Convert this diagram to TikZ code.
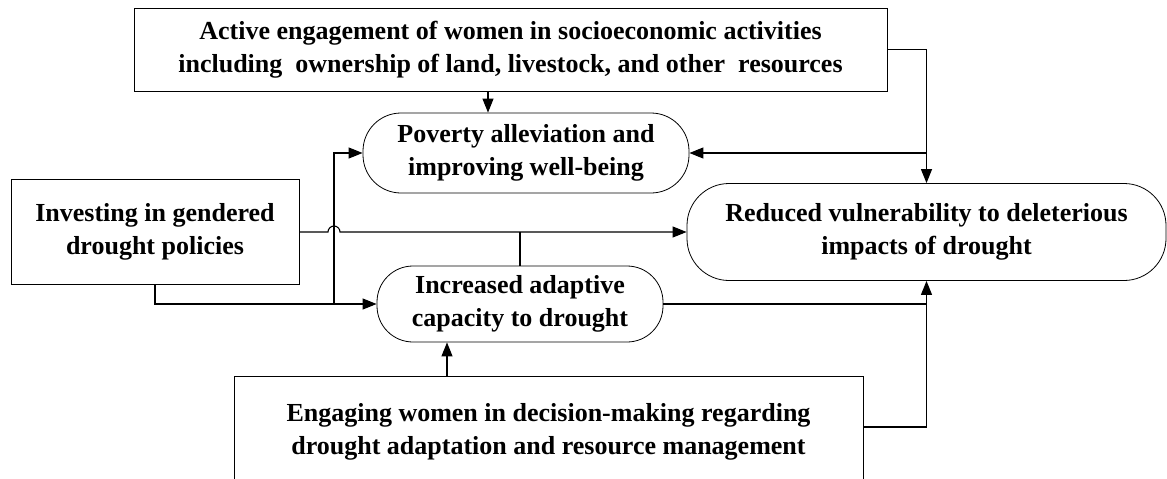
\documentclass[tikz,border=0pt]{standalone}
\usepackage{fontspec}
\setmainfont{Liberation Serif}
\usetikzlibrary{arrows.meta}
\begin{document}
\begin{tikzpicture}[x=1pt,y=-1pt,
  lbl/.style={font=\bfseries\fontsize{26}{33}\selectfont, align=center, inner sep=0pt},
  sqbox/.style={lbl, draw, line width=0.9pt},
  rbox/.style={lbl, draw, line width=0.8pt, rounded corners=#1},
  link/.style={line width=1.1pt},
  arr/.style={link, -{Triangle[length=14pt,width=11pt]}}]
\useasboundingbox (0,0) rectangle (1167,479);
\clip (0,0) rectangle (1167,479);

% boxes
\node[sqbox, minimum width=753pt, minimum height=83pt] (act) at (510.5,49.5)
  {Active engagement of women in socioeconomic activities\\including\ \ ownership of land, livestock, and other\ \ resources};
\node[sqbox, minimum width=288pt, minimum height=105pt] (inv) at (155,232)
  {Investing in gendered\\drought policies};
\node[sqbox, minimum width=629pt, minimum height=112pt] (eng) at (548.5,432)
  {Engaging women in decision-making regarding\\drought adaptation and resource management};

% outcomes
\node[rbox=38pt, minimum width=326pt, minimum height=80pt] (pov) at (526,153)
  {Poverty alleviation and\\improving well-being};
\node[rbox=42pt, minimum width=479pt, minimum height=97pt] (red) at (926.5,232)
  {Reduced vulnerability to deleterious\\impacts of drought};
\node[rbox=36pt, minimum width=286pt, minimum height=76pt] (inc) at (520,304)
  {Increased adaptive\\capacity to drought};

% helper abscissae
\coordinate (xa) at (488,0);
\coordinate (xj) at (334,0);
\coordinate (xe) at (447,0);

% connectors
\draw[arr] (act.south -| xa) -- (pov.north -| xa);
\draw[arr] (act.east) -| (red.north);
\draw[arr] (red.north |- pov.east) -- (pov.east);
\draw[arr] (inv.east) -- ([xshift=-6pt]xj |- inv.east) arc[start angle=180, end angle=0, radius=6pt] -- (red.west);
\draw[link] (inc.north) -- (inc.north |- red.west);
\draw[arr] (inv.south) |- (inc.west);
\draw[arr] (xj |- inc.west) |- (pov.west);
\draw[arr] (inc.east) -| (red.south);
\draw[link] ([yshift=5pt]eng.east) -| (red.south |- inc.east);
\draw[arr] (eng.north -| xe) -- (inc.south -| xe);
\end{tikzpicture}
\end{document}
